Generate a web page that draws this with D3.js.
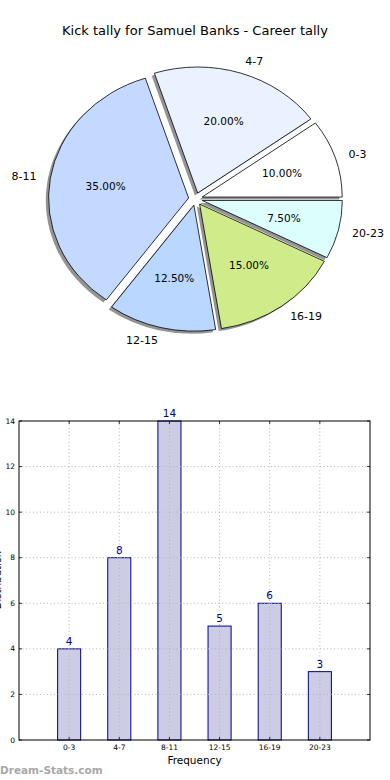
<!DOCTYPE html>
<html><head><meta charset="utf-8">
<script src="https://cdn.jsdelivr.net/npm/d3@7/dist/d3.min.js"></script>
<style>body{margin:0;background:#fff}svg{display:block;font-family:"DejaVu Sans",sans-serif}</style>
</head><body>
<script>
const title = "Kick tally for Samuel Banks - Career tally";
const categories = ["0-3","4-7","8-11","12-15","16-19","20-23"];
const counts = [4,8,14,5,6,3];
const sliceColors = ["#ffffff","#eaf1ff","#c4d9ff","#b9d7ff","#d0ec8a","#dcfffe"];
const yTicks = [0,2,4,6,8,10,12,14];
const xLabel = "Frequency";
const yLabel = "Distribution";
const watermark = "Dream-Stats.com";

const W = 390, H = 780;
const svg = d3.select("body").append("svg").attr("width", W).attr("height", H);

svg.append("text").attr("x", 195).attr("y", 35).attr("text-anchor","middle")
  .attr("font-size", 13).attr("fill","#000").text(title);

// ---------- Pie ----------
const cx = 195.5, cy = 199, rx = 140, ry = 126, explode = 0.05;
const total = d3.sum(counts);
const pie = d3.pie().sort(null).value(d => d).startAngle(Math.PI/2).endAngle(Math.PI/2 - 2*Math.PI);
const arcs = pie(counts);
const arcGen = d3.arc().innerRadius(0).outerRadius(1);
const pg = svg.append("g");
function offs(d){ const m=(d.startAngle+d.endAngle)/2; return [Math.sin(m)*explode*rx, -Math.cos(m)*explode*ry, m]; }
arcs.forEach(d => {
  const [ox, oy] = offs(d);
  pg.append("path").attr("d", arcGen(d))
    .attr("transform", `translate(${cx+ox-0.02*rx},${cy+oy+0.02*ry}) scale(${rx},${ry})`)
    .attr("fill", "#000").attr("fill-opacity", 0.42);
});
arcs.forEach((d,i) => {
  const [ox, oy] = offs(d);
  pg.append("path").attr("d", arcGen(d))
    .attr("transform", `translate(${cx+ox},${cy+oy}) scale(${rx},${ry})`)
    .attr("fill", sliceColors[i]).attr("stroke","#000").attr("stroke-width",0.8)
    .attr("vector-effect","non-scaling-stroke");
});
arcs.forEach((d,i) => {
  const [ox, oy, m] = offs(d);
  const sx = Math.sin(m), sy = -Math.cos(m);
  const lx = cx + ox + 1.1*rx*sx, ly = cy + oy + 1.1*ry*sy;
  pg.append("text").attr("x", lx).attr("y", ly).attr("dy","0.35em")
    .attr("text-anchor", sx > 0 ? "start" : "end").attr("font-size", 11).text(categories[i]);
  const px = cx + ox + 0.6*rx*sx, py = cy + oy + 0.6*ry*sy;
  pg.append("text").attr("x", px).attr("y", py).attr("dy","0.35em")
    .attr("text-anchor","middle").attr("font-size", 10.5)
    .text(d3.format(".2f")(counts[i]/total*100) + "%");
});

// ---------- Bars ----------
const L = 19, R = 370, T = 421, B = 740;
const x = d3.scaleLinear().domain([-1, categories.length]).range([L, R]);
const y = d3.scaleLinear().domain([0, 14]).range([B, T]);
const bw = 0.46;
const bg = svg.append("g");
bg.selectAll("rect.bar").data(counts).enter().append("rect")
  .attr("x", (d,i) => x(i - bw/2)).attr("width", x(bw) - x(0))
  .attr("y", d => y(d)).attr("height", d => B - y(d))
  .attr("fill", "#ccccE5").attr("stroke", "#00008b").attr("stroke-width", 1);
const grid = bg.append("g").attr("stroke","#b5b5b5").attr("stroke-dasharray","1,2.5").attr("stroke-width",1);
yTicks.forEach(t => { if (t>0 && t<14) grid.append("line").attr("x1",L).attr("x2",R).attr("y1",y(t)).attr("y2",y(t)); });
categories.forEach((c,i) => grid.append("line").attr("x1",x(i)).attr("x2",x(i)).attr("y1",T).attr("y2",B));
bg.selectAll("text.val").data(counts).enter().append("text")
  .attr("x",(d,i)=>x(i)).attr("y", d => y(d) - 4).attr("text-anchor","middle")
  .attr("font-size",10.5).attr("fill","#00008b").text(d => d);
bg.append("rect").attr("x",L).attr("y",T).attr("width",R-L).attr("height",B-T)
  .attr("fill","none").attr("stroke","#000").attr("stroke-width",1);
const tk = bg.append("g").attr("stroke","#000").attr("stroke-width",0.8);
yTicks.forEach(t => {
  tk.append("line").attr("x1",L).attr("x2",L+3).attr("y1",y(t)).attr("y2",y(t));
  tk.append("line").attr("x1",R).attr("x2",R-3).attr("y1",y(t)).attr("y2",y(t));
});
categories.forEach((c,i) => {
  tk.append("line").attr("x1",x(i)).attr("x2",x(i)).attr("y1",B).attr("y2",B-3);
  tk.append("line").attr("x1",x(i)).attr("x2",x(i)).attr("y1",T).attr("y2",T+3);
});
bg.selectAll("text.yt").data(yTicks).enter().append("text")
  .attr("x", L-4).attr("y", d => y(d)).attr("dy","0.35em").attr("text-anchor","end")
  .attr("font-size",7.5).attr("fill","#000").text(d => d);
bg.selectAll("text.xt").data(categories).enter().append("text")
  .attr("x",(d,i)=>x(i)).attr("y", B+10).attr("text-anchor","middle")
  .attr("font-size",7.5).attr("fill","#000").text(d => d);
bg.append("text").attr("x", (L+R)/2).attr("y", 764).attr("text-anchor","middle")
  .attr("font-size",10.5).text(xLabel);
bg.append("text").attr("transform","translate(1,580) rotate(-90)").attr("text-anchor","middle")
  .attr("font-size",10).text(yLabel);
svg.append("text").attr("x",0).attr("y",774).attr("font-size",10.5).attr("font-weight","bold")
  .attr("fill","#a8a8a8").text(watermark);
</script>
</body></html>
